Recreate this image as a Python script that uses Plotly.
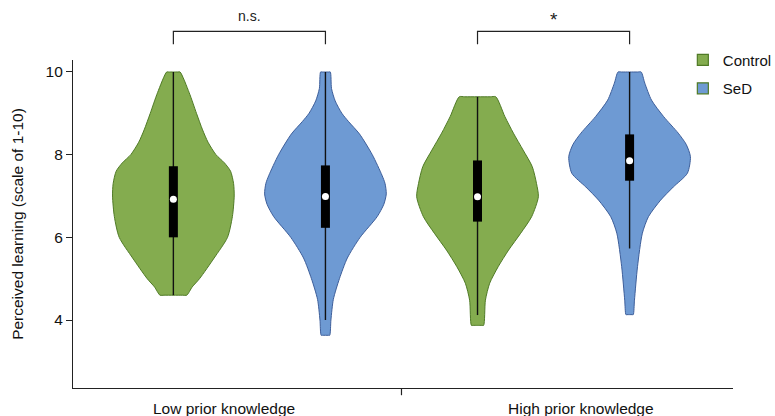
import plotly.graph_objects as go

# ---- data -----------------------------------------------------------------
groups = ["Low prior knowledge", "High prior knowledge"]
conditions = ["Control", "SeD"]

# Violin outlines: y levels (scale 1-10) and relative density (1 = widest)
ctrl_low_y = [4.6, 4.8, 5.0, 5.5, 6.0, 6.5, 7.0, 7.3, 7.6, 7.8, 8.0, 8.3, 8.6, 9.0, 9.5, 10.0]
ctrl_low_d = [0.22, 0.31, 0.43, 0.67, 0.89, 0.97, 1.0, 0.99, 0.94, 0.84, 0.70, 0.57, 0.48, 0.38, 0.26, 0.11]

sed_low_y = [3.63, 4.0, 4.5, 5.0, 5.5, 6.0, 6.5, 6.8, 7.05, 7.3, 7.5, 8.0, 8.5, 8.8, 9.0, 9.3, 9.6, 10.0]
sed_low_d = [0.07, 0.09, 0.13, 0.23, 0.36, 0.57, 0.85, 0.96, 1.0, 0.98, 0.93, 0.77, 0.56, 0.38, 0.27, 0.16, 0.10, 0.08]

ctrl_high_y = [3.87, 4.48, 4.89, 5.29, 5.69, 6.10, 6.50, 6.98, 7.30, 7.71, 8.11, 8.52, 8.92, 9.40]
ctrl_high_d = [0.10, 0.13, 0.20, 0.34, 0.51, 0.71, 0.89, 1.0, 0.97, 0.90, 0.75, 0.59, 0.45, 0.30]

sed_high_y = [4.13, 4.48, 5.29, 6.10, 6.50, 6.90, 7.22, 7.55, 7.95, 8.25, 8.52, 8.92, 9.32, 9.73, 10.0]
sed_high_d = [0.06, 0.08, 0.13, 0.21, 0.31, 0.51, 0.72, 0.95, 1.0, 0.93, 0.80, 0.56, 0.36, 0.25, 0.19]

# Box summaries per violin: whisker low, Q1, median, Q3, whisker high
whisker_low = [4.6, 4.0, 4.12, 5.73]
q1 = [6.0, 6.23, 6.38, 7.37]
median = [6.92, 6.99, 6.98, 7.85]
q3 = [7.72, 7.74, 7.86, 8.49]
whisker_high = [10.0, 10.0, 9.40, 10.0]

significance = ["n.s.", "*"]

# ---- styling --------------------------------------------------------------
fills = {"Control": "#84AC4F", "SeD": "#6E9AD3"}
edges = {"Control": "#4F7A26", "SeD": "#3D5E9A"}
FONT = "Liberation Sans, Arial, sans-serif"
FS = 15.5
OFFSET = 0.25          # horizontal shift of each condition within a group
HALF_MAX = 0.2         # half-width of the widest violin, in x units
X_RANGE = [-0.58, 1.59]
Y_RANGE = [2.355, 10.29]

profiles = [
    (0, "Control", ctrl_low_y, ctrl_low_d),
    (0, "SeD", sed_low_y, sed_low_d),
    (1, "Control", ctrl_high_y, ctrl_high_d),
    (1, "SeD", sed_high_y, sed_high_d),
]


def outline(cx, ys, ds):
    """Closed violin outline; the truncated ends get extra vertices next to
    the corners so the spline keeps them square."""
    hw = [HALF_MAX * d for d in ds]
    xs, yy = [], []
    # bottom edge, left to right
    for f in (-0.7, 0.0, 0.7):
        xs.append(cx + f * hw[0]); yy.append(ys[0])
    # right side, bottom to top
    for h, y in zip(hw, ys):
        xs.append(cx + h); yy.append(y)
    # top edge, right to left
    for f in (0.7, 0.0, -0.7):
        xs.append(cx + f * hw[-1]); yy.append(ys[-1])
    # left side, top to bottom
    for h, y in zip(hw[::-1], ys[::-1]):
        xs.append(cx - h); yy.append(y)
    xs.append(xs[0]); yy.append(yy[0])
    return xs, yy


fig = go.Figure()

for i, (g, cond, ys, ds) in enumerate(profiles):
    cx = g + (-OFFSET if cond == "Control" else OFFSET)
    xs, yy = outline(cx, ys, ds)
    fig.add_trace(go.Scatter(
        x=xs, y=yy, mode="lines", fill="toself",
        fillcolor=fills[cond],
        line=dict(color=edges[cond], width=1, shape="spline", smoothing=0.7),
        showlegend=False, hoverinfo="skip"))
    # whisker
    fig.add_trace(go.Scatter(
        x=[cx, cx], y=[whisker_low[i], whisker_high[i]], mode="lines",
        line=dict(color="#111111", width=1.4), showlegend=False, hoverinfo="skip"))
    # interquartile box
    fig.add_trace(go.Scatter(
        x=[cx, cx], y=[q1[i], q3[i]], mode="lines",
        line=dict(color="black", width=9), showlegend=False, hoverinfo="skip"))
    # median
    fig.add_trace(go.Scatter(
        x=[cx], y=[median[i]], mode="markers",
        marker=dict(color="white", size=7, line=dict(width=0)),
        showlegend=False, hoverinfo="skip"))

# legend entries
for k, cond in enumerate(conditions):
    fig.add_trace(go.Scatter(
        x=[None], y=[None], mode="markers", name=cond, legendgroup=cond,
        marker=dict(symbol="square", size=11, color=fills[cond],
                    line=dict(color="#4F7A26", width=1.2))))


def to_paper_x(v):
    return (v - X_RANGE[0]) / (X_RANGE[1] - X_RANGE[0])


# significance brackets above each group
shapes = []
annotations = []
for g, label in enumerate(significance):
    x0 = to_paper_x(g - OFFSET)
    x1 = to_paper_x(g + OFFSET)
    y_top = 1.087
    y_leg = 1.048
    star = label == "*"
    shapes.append(dict(type="path", xref="paper", yref="paper",
                       path=f"M{x0},{y_leg} L{x0},{y_top} L{x1},{y_top} L{x1},{y_leg}",
                       line=dict(color="#222222", width=1.2)))
    annotations.append(dict(xref="paper", yref="paper", x=(x0 + x1) / 2,
                            xanchor="center", y=y_top + 0.016, yanchor="bottom",
                            yshift=-6 if star else 0,
                            showarrow=False, text=label,
                            font=dict(family=FONT, size=19 if star else 14,
                                      color="#222222")))

# group boundary tick on the x axis
shapes.append(dict(type="line", xref="paper", yref="paper",
                   x0=to_paper_x(0.5), x1=to_paper_x(0.5), y0=0, y1=-0.022,
                   line=dict(color="#222222", width=1.2)))

# group labels below the axis
label_x = [-0.084, 1.09]
for g, name in enumerate(groups):
    annotations.append(dict(xref="paper", yref="paper", x=to_paper_x(label_x[g]),
                            xanchor="center", y=-0.030, yanchor="top",
                            showarrow=False, text=name,
                            font=dict(family=FONT, size=FS, color="#111111")))

fig.update_layout(
    width=775, height=416,
    margin=dict(l=73, r=42, t=60, b=28, autoexpand=False),
    plot_bgcolor="white", paper_bgcolor="white",
    font=dict(family=FONT, size=FS, color="#111111"),
    shapes=shapes, annotations=annotations,
    legend=dict(x=0.924, y=1.05, xanchor="left", yanchor="top",
                font=dict(family=FONT, size=15, color="#111111"),
                tracegroupgap=6, bgcolor="rgba(0,0,0,0)"),
    xaxis=dict(range=X_RANGE, showgrid=False, zeroline=False, showticklabels=False,
               ticks="", showline=True, linecolor="#222222", linewidth=1.2),
    yaxis=dict(range=Y_RANGE, tickvals=[4, 6, 8, 10], showgrid=False, zeroline=False,
               ticks="outside", ticklen=6, tickwidth=1.2, tickcolor="#222222",
               showline=True, linecolor="#222222", linewidth=1.2,
               tickfont=dict(family=FONT, size=FS, color="#111111"),
               title=dict(text="Perceived learning (scale of 1-10)",
                          font=dict(family=FONT, size=FS, color="#111111"),
                          standoff=18)),
)

fig.write_html("out.html")
